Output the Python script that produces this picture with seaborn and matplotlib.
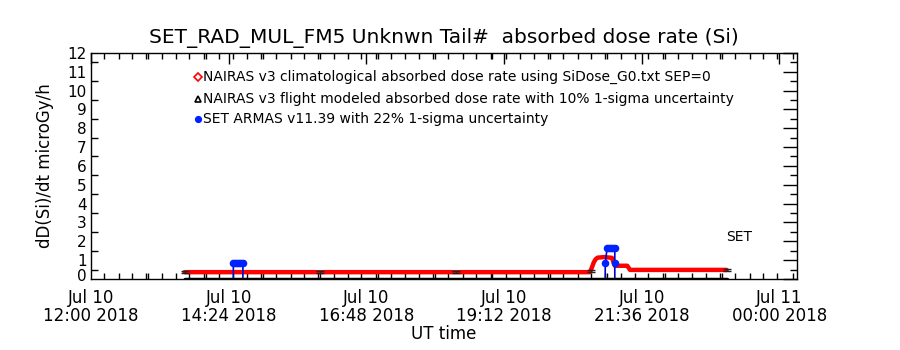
import matplotlib
matplotlib.use("Agg")
import matplotlib.pyplot as plt
import matplotlib.dates as mdates
import matplotlib.transforms as mtrans
from matplotlib.ticker import MultipleLocator
import pandas as pd
import seaborn as sns

DAY = "2018-07-10 "

# NAIRAS v3 climatological absorbed dose rate (red)
clim_times = ["13:38", "20:42", "20:44", "20:46", "20:48", "20:50", "20:57", "21:05",
              "21:08", "21:21", "21:24", "23:05"]
clim_vals = [0.36, 0.36, 0.6, 0.88, 1.05, 1.13, 1.16, 1.12,
             0.70, 0.70, 0.48, 0.48]

# NAIRAS v3 flight modeled (black line and sparse error-bar points)
flight_times = ["13:38", "23:05"]
flight_vals = [0.0, 0.0]
flight_pt_times = ["13:38", "16:00", "18:22", "20:43", "23:05"]
flight_pt_vals = [0.36, 0.36, 0.36, 0.43, 0.48]

# SET ARMAS v11.39 (blue)
armas_times = ["13:38", "14:29", "14:29", "14:31", "14:33", "14:35", "14:37", "14:39",
               "14:39", "20:58", "20:58", "21:00", "21:02", "21:04", "21:06", "21:08",
               "21:08", "21:08", "23:05"]
armas_vals = [0.0, 0.0, 0.83, 0.83, 0.83, 0.83, 0.83, 0.83,
              0.0, 0.0, 0.83, 1.66, 1.66, 1.66, 1.66, 1.66,
              0.83, 0.0, 0.0]

tick_times = ["2018-07-10 12:00", "2018-07-10 14:24", "2018-07-10 16:48",
              "2018-07-10 19:12", "2018-07-10 21:36", "2018-07-11 00:00"]
y_ticks = list(range(0, 13))

legend_labels = [
    "NAIRAS v3 climatological absorbed dose rate using SiDose_G0.txt SEP=0",
    "NAIRAS v3 flight modeled absorbed dose rate with 10% 1-sigma uncertainty",
    "SET ARMAS v11.39 with 22% 1-sigma uncertainty",
]

sns.set_theme(style="white")
plt.rcParams["font.family"] = ["DejaVu Sans"]
plt.rcParams["text.color"] = "black"
plt.rcParams["axes.labelcolor"] = "black"
plt.rcParams["xtick.color"] = "black"
plt.rcParams["ytick.color"] = "black"

def ts(lst):
    return pd.to_datetime([DAY + t for t in lst])

clim = pd.DataFrame({"t": ts(clim_times), "v": clim_vals})
flight = pd.DataFrame({"t": ts(flight_times), "v": flight_vals})
fpts = pd.DataFrame({"t": ts(flight_pt_times), "v": flight_pt_vals})
armas = pd.DataFrame({"t": ts(armas_times), "v": armas_vals})
armas_nz = armas[armas["v"] > 0]

fig = plt.figure(figsize=(9, 3.5), dpi=100)
ax = fig.add_axes([0.101, 0.203, 0.785, 0.646])

sns.lineplot(data=clim, x="t", y="v", ax=ax, color="#ff0000", linewidth=3.2,
             sort=False, estimator=None, zorder=3)
sns.lineplot(data=armas, x="t", y="v", ax=ax, color="#0000cc", linewidth=1.2,
             sort=False, estimator=None, zorder=4)
sns.lineplot(data=flight, x="t", y="v", ax=ax, color="black", linewidth=2.5,
             sort=False, estimator=None, zorder=5)
ax.errorbar(fpts["t"], fpts["v"], yerr=[v * 0.1 for v in fpts["v"]], fmt="none",
            ecolor="#222222", elinewidth=1, capsize=3, capthick=1, zorder=6)
sns.scatterplot(data=armas_nz, x="t", y="v", ax=ax, color="#0022ff", marker="o",
                s=30, edgecolor="#0022ff", linewidth=0, zorder=7)

ax.set_xlim(pd.Timestamp("2018-07-10 12:00"), pd.Timestamp("2018-07-11 00:19"))
ax.set_ylim(0, 12)
ax.set_xticks(pd.to_datetime(tick_times))
ax.xaxis.set_major_formatter(mdates.DateFormatter("%b %d\n%H:%M %Y"))
ax.xaxis.set_minor_locator(mdates.MinuteLocator(byminute=[0, 14, 29, 43, 58]))
ax.set_yticks(y_ticks)
ax.yaxis.set_minor_locator(MultipleLocator(0.5))

ax.tick_params(axis="both", which="both", direction="in", top=True, right=True,
               colors="black")
ax.tick_params(axis="y", which="major", length=10, width=1, pad=3, labelsize=11)
ax.tick_params(axis="y", which="minor", length=5, width=1, left=True, right=True)
ax.tick_params(axis="x", which="major", length=8, width=1, pad=7, labelsize=12)
ax.tick_params(axis="x", which="minor", length=4, width=1, bottom=True, top=True)
for s in ax.spines.values():
    s.set_color("black")
    s.set_linewidth(1)

for lbl in ax.get_xticklabels():
    lbl.set_linespacing(1.0)

# lift the "0" label slightly as in the reference
zero_lbl = ax.get_yticklabels()[0]
zero_lbl.set_transform(zero_lbl.get_transform() +
                       mtrans.ScaledTranslation(0, 3 / 72, fig.dpi_scale_trans))

ax.set_xlabel("UT time", fontsize=12, labelpad=0)
ax.set_ylabel("dD(Si)/dt microGy/h", fontsize=12, labelpad=10)
ax.set_title("SET_RAD_MUL_FM5 Unknwn Tail#  absorbed dose rate (Si)", fontsize=14.5,
             pad=7, color="black")

lx = 0.152
for y, lab, m, fc, ec in [(0.894, legend_labels[0], "D", "white", "#ff0000"),
                          (0.796, legend_labels[1], "^", "white", "black"),
                          (0.708, legend_labels[2], "o", "#0022ff", "#0022ff")]:
    ax.plot([lx], [y], marker=m, markersize=4, markerfacecolor=fc, markeredgecolor=ec,
            markeredgewidth=1.2, transform=ax.transAxes, linestyle="none", clip_on=False)
    ax.text(lx + 0.007, y, lab, transform=ax.transAxes, fontsize=10, va="center",
            ha="left", color="black")

ax.text(0.899, 0.186, "SET", transform=ax.transAxes, fontsize=10, ha="left", va="center")

fig.savefig("out.png", dpi=100)
